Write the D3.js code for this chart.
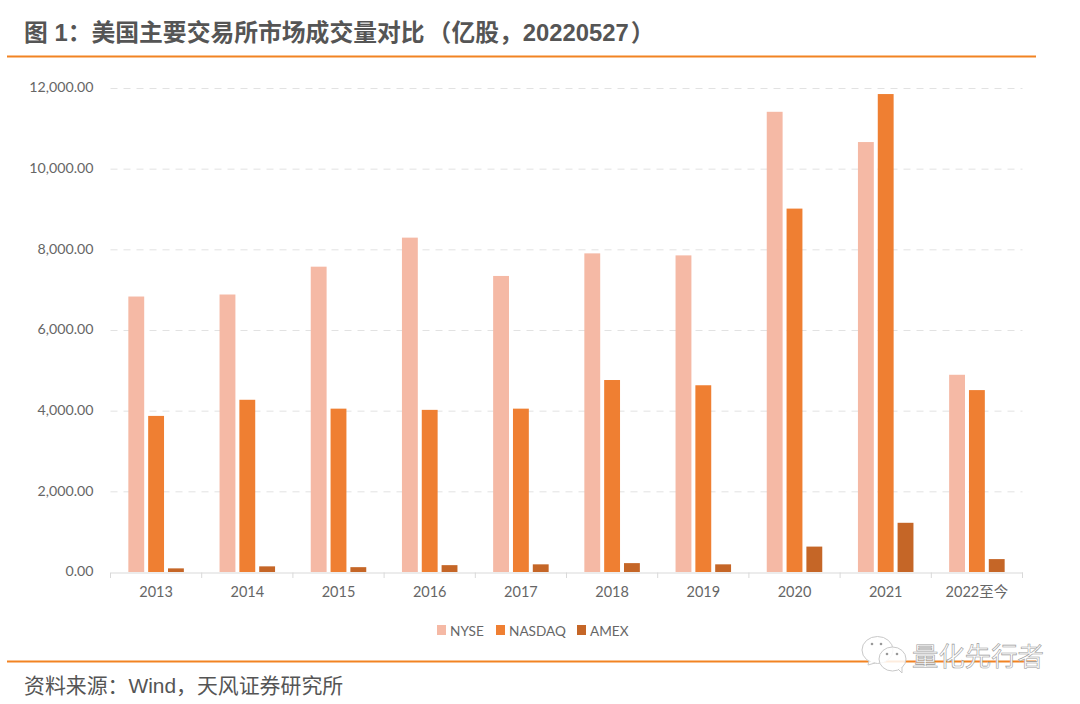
<!DOCTYPE html>
<html>
<head>
<meta charset="utf-8">
<script src="https://cdn.jsdelivr.net/npm/d3@7"></script>
<style>
  html, body { margin: 0; padding: 0; background: #fff; }
  svg { display: block; }
  text { font-family: "Liberation Sans", "Noto Sans CJK SC", sans-serif; }
</style>
</head>
<body>
<svg id="chart" width="1080" height="704"></svg>
<script>
"use strict";

var years = ['2013', '2014', '2015', '2016', '2017', '2018', '2019', '2020', '2021', '2022至今'];
var nyse = [6830, 6880, 7570, 8290, 7340, 7900, 7850, 11410, 10660, 4890];
var nasdaq = [3870, 4270, 4050, 4020, 4050, 4760, 4630, 9010, 11850, 4510];
var amex = [90, 140, 120, 170, 190, 220, 190, 630, 1220, 320];
var seriesNames = ['NYSE', 'NASDAQ', 'AMEX'];
var seriesColors = ['#f5b9a5', '#ef7f32', '#c56627'];
var yTicks = [0, 2000, 4000, 6000, 8000, 10000, 12000];

var svg = d3.select('#chart');
var allSeries = [nyse, nasdaq, amex];
var labelFont = 'Lato, "Noto Sans CJK SC", sans-serif';

var x = d3.scaleBand().domain(years).range([110.5, 1022.5]);
var inner = d3.scaleBand().domain(seriesNames).range([0, x.bandwidth()])
    .paddingInner(0.2).paddingOuter(0.9);
var y = d3.scaleLinear().domain([0, 12000]).range([572, 88]);

// title block
var title = svg.append('text').attr('x', 24).attr('y', 41)
    .attr('font-size', 23.8).attr('font-weight', 700).attr('fill', '#555');
title.append('tspan').text('图 1：美国主要交易所市场成交量对比');
title.append('tspan').attr('dx', 3).text('（亿股，20220527');
title.append('tspan').attr('dx', 2).text('）');
svg.append('line').attr('x1', 7).attr('x2', 1036).attr('y1', 56.5).attr('y2', 56.5)
    .attr('stroke', '#f28322').attr('stroke-width', 2);

// grid + y labels
var yAxis = svg.append('g').attr('transform', 'translate(110.5,0)')
    .call(d3.axisLeft(y).tickValues(yTicks).tickSize(0).tickPadding(17).tickFormat(d3.format(',.2f')));
yAxis.select('.domain').remove();
yAxis.selectAll('text').attr('font-size', 14.2).attr('fill', '#666')
    .style('font-family', labelFont).attr('dy', '0.28em');
yAxis.selectAll('line').filter(d => d > 0)
    .attr('x2', 912).attr('stroke', '#e2e2e2').attr('stroke-dasharray', '7 6');

// bars
var groups = svg.selectAll('.year').data(years).enter().append('g')
    .attr('class', 'year')
    .attr('transform', d => 'translate(' + x(d) + ',0)');
seriesNames.forEach((name, s) => {
    groups.append('rect')
        .attr('x', inner(name))
        .attr('width', inner.bandwidth())
        .attr('y', (d, i) => y(allSeries[s][i]))
        .attr('height', (d, i) => y(0) - y(allSeries[s][i]))
        .attr('fill', seriesColors[s]);
});

// x axis
var xAxis = svg.append('g').attr('transform', 'translate(0,572.5)')
    .call(d3.axisBottom(x).tickSize(0).tickPadding(14));
xAxis.select('.domain').attr('stroke', '#d9d9d9');
xAxis.selectAll('text').attr('font-size', 14.5).attr('fill', '#666')
    .style('font-family', labelFont);
var edges = years.map(d => x(d)).concat([x.range()[1]]);
svg.selectAll('.edge').data(edges).enter().append('line').attr('class', 'edge')
    .attr('x1', d => d).attr('x2', d => d).attr('y1', 572.5).attr('y2', 578)
    .attr('stroke', '#d9d9d9');

// legend
var legendX = [437, 496, 577];
var legend = svg.selectAll('.lg').data(seriesNames).enter().append('g')
    .attr('class', 'lg')
    .attr('transform', (d, i) => 'translate(' + legendX[i] + ',625)');
legend.append('rect').attr('width', 9).attr('height', 10)
    .attr('fill', (d, i) => seriesColors[i]);
legend.append('text').attr('x', 13).attr('y', 10.5)
    .attr('font-size', 13.6).attr('fill', '#666')
    .style('font-family', labelFont)
    .text(d => d);

// source block
svg.append('line').attr('x1', 7).attr('x2', 1036).attr('y1', 661.5).attr('y2', 661.5)
    .attr('stroke', '#f28322').attr('stroke-width', 2);
svg.append('text').attr('x', 24).attr('y', 693)
    .attr('font-size', 20.9).attr('fill', '#555')
    .text('资料来源：Wind，天风证券研究所');

// watermark
var mark = svg.append('g').attr('fill', '#fff').attr('stroke', '#c9c9c9').attr('stroke-width', 1);
mark.append('ellipse').attr('cx', 877.5).attr('cy', 650).attr('rx', 15.5).attr('ry', 13.5);
mark.append('path').attr('d', 'M869 661 L868 665 L875 663');
mark.append('ellipse').attr('cx', 892.5).attr('cy', 659).attr('rx', 13.5).attr('ry', 12)
    .attr('fill-opacity', 0.85);
mark.append('path').attr('d', 'M898 669 L902 673 L902 667');
svg.append('g').attr('fill', '#999').selectAll('circle')
    .data([[872, 644], [881, 644], [887, 654], [897, 654]]).enter().append('circle')
    .attr('cx', d => d[0]).attr('cy', d => d[1]).attr('r', 1.3);
svg.append('text').attr('x', 912).attr('y', 666)
    .attr('font-size', 26.4).attr('fill', '#fff').attr('stroke', '#9a9a9a').attr('stroke-width', 0.6)
    .text('量化先行者');
</script>
</body>
</html>
